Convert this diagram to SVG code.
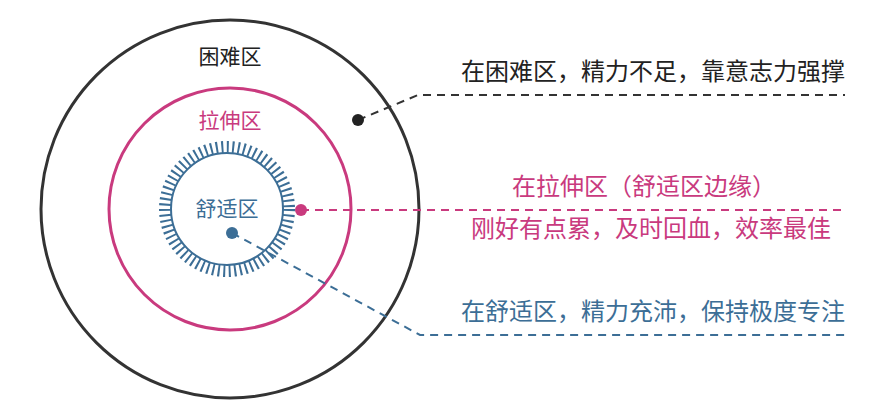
<svg xmlns="http://www.w3.org/2000/svg" width="889" height="415" viewBox="0 0 889 415">
<style>
text{font-family:"Noto Sans CJK SC","Noto Sans",sans-serif;font-size:24px}
.n{font-size:21px}
.d{fill:none;stroke-width:2;stroke-dasharray:8 6}
</style>
<rect width="889" height="415" fill="#fff"/>
<g id="hard"><circle cx="230" cy="209" r="189" fill="none" stroke="#333" stroke-width="3"/>
<text class="n" x="230" y="64" text-anchor="middle" fill="#222">困难区</text></g>
<g id="stretch"><circle cx="230" cy="209" r="121" fill="none" stroke="#c93a7e" stroke-width="3"/>
<text class="n" x="230" y="128" text-anchor="middle" fill="#c93a7e">拉伸区</text></g>
<g id="comfort"><circle cx="227" cy="209" r="62" fill="none" stroke="#3c6e96" stroke-width="12" stroke-dasharray="2 3.5"/>
<circle cx="227" cy="209" r="56" fill="none" stroke="#3c6e96" stroke-width="2"/>
<text class="n" x="227" y="216" text-anchor="middle" fill="#3c6e96">舒适区</text></g>
<g id="connectors">
<path class="d" stroke="#333" d="M358 120 L418 95 H845"/>
<path class="d" stroke="#c93a7e" d="M301 210 H845"/>
<path class="d" stroke="#3c6e96" d="M232 233 L420 335 H845"/>
<circle cx="358" cy="120" r="6" fill="#222"/>
<circle cx="301" cy="210" r="6" fill="#c93a7e"/>
<circle cx="232" cy="233" r="6" fill="#3c6e96"/>
</g>
<g id="labels">
<text x="845" y="80" text-anchor="end" fill="#222">在困难区，精力不足，靠意志力强撑</text>
<text x="644" y="195" text-anchor="middle" fill="#c93a7e">在拉伸区（舒适区边缘）</text>
<text x="651" y="237" text-anchor="middle" fill="#c93a7e">刚好有点累，及时回血，效率最佳</text>
<text x="845" y="320" text-anchor="end" fill="#3c6e96">在舒适区，精力充沛，保持极度专注</text>
</g>
</svg>
